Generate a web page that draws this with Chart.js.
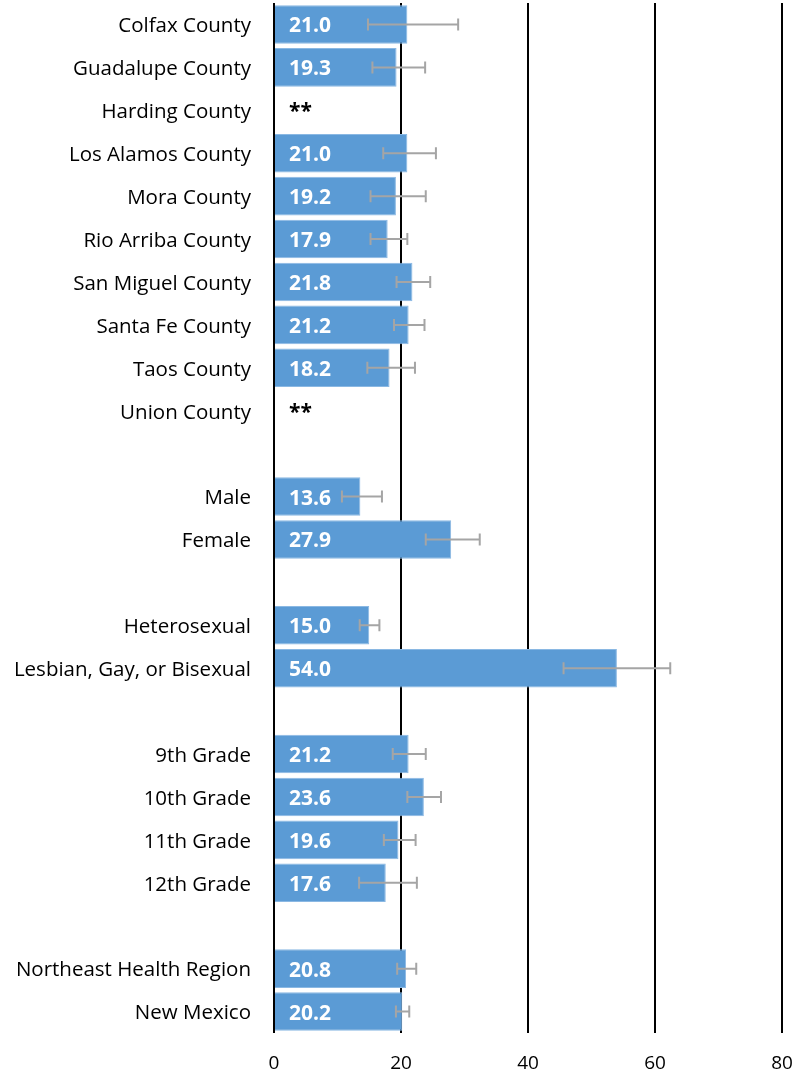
<!DOCTYPE html>
<html>
<head>
<meta charset="utf-8">
<script src="https://cdn.jsdelivr.net/npm/chart.js@4.4.0/dist/chart.umd.min.js"></script>
<style>
  html, body { margin: 0; padding: 0; background: #fff; }
  #wrap { width: 799px; height: 1076px; }
</style>
</head>
<body>
<div id="wrap"><canvas id="grafica"></canvas></div>
<script>
// Datos de la grafica (vacios = separadores)
var categorias = [
  'Colfax County', 'Guadalupe County', 'Harding County', 'Los Alamos County',
  'Mora County', 'Rio Arriba County', 'San Miguel County', 'Santa Fe County',
  'Taos County', 'Union County', '',
  'Male', 'Female', '',
  'Heterosexual', 'Lesbian, Gay, or Bisexual', '',
  '9th Grade', '10th Grade', '11th Grade', '12th Grade', '',
  'Northeast Health Region', 'New Mexico'
];
var valores = [
  21.0, 19.3, null, 21.0, 19.2, 17.9, 21.8, 21.2, 18.2, null, null,
  13.6, 27.9, null,
  15.0, 54.0, null,
  21.2, 23.6, 19.6, 17.6, null,
  20.8, 20.2
];
var limiteInferior = [
  14.8, 15.5, null, 17.2, 15.2, 15.2, 19.3, 18.9, 14.7, null, null,
  10.7, 23.9, null,
  13.5, 45.6, null,
  18.7, 21.0, 17.3, 13.4, null,
  19.4, 19.2
];
var limiteSuperior = [
  29.0, 23.8, null, 25.5, 23.9, 21.0, 24.6, 23.7, 22.2, null, null,
  17.0, 32.4, null,
  16.6, 62.4, null,
  23.9, 26.3, 22.3, 22.5, null,
  22.4, 21.3
];
// Filas suprimidas (se muestran con **)
var suprimidos = ['Harding County', 'Union County'];
var ticksX = [0, 20, 40, 60, 80];

var fuente = "'Open Sans', 'Liberation Sans', sans-serif";

// Plugin para barras de error y etiquetas
var extras = {
  id: 'extras',
  afterDatasetsDraw: function (chart) {
    var ctx = chart.ctx;
    var x = chart.scales.x;
    var y = chart.scales.y;
    ctx.save();
    // barras de error
    ctx.strokeStyle = '#A5A5A5';
    ctx.lineWidth = 2;
    for (var i = 0; i < categorias.length; i++) {
      if (limiteInferior[i] == null) continue;
      var cy = y.getPixelForValue(i);
      var x1 = x.getPixelForValue(limiteInferior[i]);
      var x2 = x.getPixelForValue(limiteSuperior[i]);
      ctx.beginPath();
      ctx.moveTo(x1, cy); ctx.lineTo(x2, cy);
      ctx.moveTo(x1, cy - 6); ctx.lineTo(x1, cy + 6);
      ctx.moveTo(x2, cy - 6); ctx.lineTo(x2, cy + 6);
      ctx.stroke();
    }
    // etiquetas de valores
    ctx.font = 'bold 21px ' + fuente;
    ctx.textBaseline = 'middle';
    ctx.textAlign = 'left';
    var x0 = x.getPixelForValue(0) + 15;
    for (var j = 0; j < categorias.length; j++) {
      var cy2 = y.getPixelForValue(j) + 2;
      if (valores[j] != null) {
        ctx.fillStyle = '#FFFFFF';
        ctx.fillText(valores[j].toFixed(1), x0, cy2);
      } else if (suprimidos.indexOf(categorias[j]) >= 0) {
        ctx.fillStyle = '#000000';
        ctx.fillText('**', x0, cy2);
      }
    }
    ctx.restore();
  }
};

var grafica = new Chart(document.getElementById('grafica'), {
  type: 'bar',
  data: {
    labels: categorias,
    datasets: [{
      data: valores,
      backgroundColor: '#5B9BD5',
      borderColor: '#8AB8E3',
      borderWidth: 1,
      barPercentage: 0.9,
      categoryPercentage: 1.0
    }]
  },
  options: {
    indexAxis: 'y',
    responsive: true,
    maintainAspectRatio: false,
    animation: false,
    layout: { padding: { top: 3, right: 17, bottom: 0, left: 0 } },
    plugins: {
      legend: { display: false },
      tooltip: { enabled: false }
    },
    scales: {
      x: {
        min: 0,
        max: 80,
        afterBuildTicks: function (scale) {
          scale.ticks = ticksX.map(function (v) { return { value: v }; });
        },
        afterFit: function (scale) {
          scale.height = 43;
          scale.paddingLeft = 0;
          scale.paddingRight = 0;
        },
        grid: { color: '#000000', lineWidth: 2, drawTicks: false },
        border: { display: false },
        ticks: {
          padding: 19,
          color: '#000000',
          font: { family: fuente, size: 19 }
        }
      },
      y: {
        afterFit: function (scale) {
          scale.width = 274;
          scale.paddingTop = 0;
          scale.paddingBottom = 0;
        },
        grid: { display: false, drawTicks: false },
        border: { display: false },
        ticks: {
          padding: 23,
          labelOffset: 2,
          color: '#000000',
          autoSkip: false,
          font: { family: fuente, size: 20.5 }
        }
      }
    }
  },
  plugins: [extras]
});
</script>
</body>
</html>
